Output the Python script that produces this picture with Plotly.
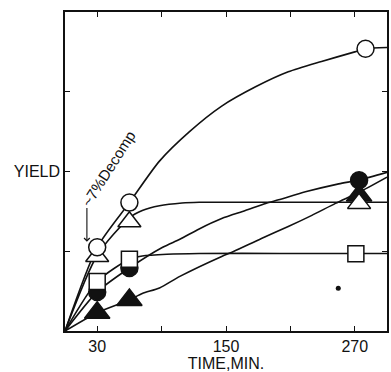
import plotly.graph_objects as go

# Measured points (time in minutes, yield in arbitrary units)
open_circle_t = [30, 60, 280]
open_circle_v = [1.05, 1.61, 3.54]
open_tri_t = [30, 60, 274]
open_tri_v = [0.935, 1.37, 1.60]
open_sq_t = [30, 60, 271]
open_sq_v = [0.62, 0.90, 0.97]
filled_circle_t = [30, 60, 274]
filled_circle_v = [0.49, 0.79, 1.89]
filled_tri_t = [30, 60, 274]
filled_tri_v = [0.23, 0.39, 1.70]

# Hand-drawn smooth curves through each series
curve_open_circle_t = [0, 30, 60, 88, 116, 146, 178, 208, 239, 270, 280, 300]
curve_open_circle_v = [0, 1.05, 1.61, 2.13, 2.50, 2.82, 3.065, 3.25, 3.38, 3.50, 3.54, 3.555]
curve_open_tri_t = [0, 30, 60, 72, 88, 109, 125, 200, 300]
curve_open_tri_v = [0, 0.95, 1.42, 1.51, 1.57, 1.605, 1.614, 1.614, 1.614]
curve_open_sq_t = [0, 30, 60, 72, 95, 125, 200, 300]
curve_open_sq_v = [0, 0.62, 0.90, 0.94, 0.962, 0.972, 0.972, 0.972]
curve_filled_circle_t = [0, 30, 60, 91, 107, 125, 146, 168, 187, 199, 224, 255, 274, 300]
curve_filled_circle_v = [0, 0.49, 0.79, 1.05, 1.15, 1.28, 1.41, 1.51, 1.60, 1.645, 1.745, 1.845, 1.894, 1.99]
curve_filled_tri_t = [0, 30, 60, 72, 88, 107, 146, 157, 183, 208, 230, 252, 274, 300]
curve_filled_tri_v = [0, 0.23, 0.39, 0.47, 0.54, 0.685, 0.935, 0.997, 1.16, 1.31, 1.45, 1.60, 1.74, 1.93]

# Small stray dot below the curves
speck_t = [254.6]
speck_v = [0.536]

x_tickvals = [30, 90, 150, 210, 270]
x_ticktext = ["30", "", "150", "", "270"]
y_tickvals = [1, 2, 3]
y_ticktext = ["", "YIELD", ""]

INK = "#111111"
FONT = "Liberation Sans"

fig = go.Figure()

curves = [
    (curve_filled_tri_t, curve_filled_tri_v),
    (curve_filled_circle_t, curve_filled_circle_v),
    (curve_open_sq_t, curve_open_sq_v),
    (curve_open_tri_t, curve_open_tri_v),
    (curve_open_circle_t, curve_open_circle_v),
]
for ct, cv in curves:
    fig.add_trace(go.Scatter(
        x=ct, y=cv, mode="lines",
        line=dict(color=INK, width=1.6, shape="spline", smoothing=0.7),
        hoverinfo="skip", showlegend=False,
    ))

markers = [
    (filled_tri_t, filled_tri_v, "triangle-up", 22, INK),
    (filled_circle_t, filled_circle_v, "circle", 17, INK),
    (open_tri_t, open_tri_v, "triangle-up", 20, "white"),
    (open_sq_t, open_sq_v, "square", 16, "white"),
    (open_circle_t, open_circle_v, "circle", 17, "white"),
]
for mt, mv, sym, size, fill in markers:
    fig.add_trace(go.Scatter(
        x=mt, y=mv, mode="markers",
        marker=dict(symbol=sym, size=size, color=fill,
                    line=dict(color=INK, width=1.5)),
        showlegend=False,
    ))

fig.add_trace(go.Scatter(
    x=speck_t, y=speck_v, mode="markers",
    marker=dict(symbol="circle", size=5, color=INK),
    showlegend=False, hoverinfo="skip",
))

# Rotated note with arrow pointing at the 30-minute point
fig.add_annotation(
    x=40.5, y=2.04, xref="x", yref="y", text="~7%Decomp",
    showarrow=False, textangle=-57.5,
    font=dict(family=FONT, size=15, color=INK),
)
fig.add_annotation(
    x=20.4, y=1.12, ax=20.4, ay=1.56, xref="x", yref="y",
    axref="x", ayref="y", text="", showarrow=True,
    arrowhead=4, arrowsize=1, arrowwidth=1.1, arrowcolor=INK,
)

axis_common = dict(
    showline=True, linecolor=INK, linewidth=1.5, mirror="allticks",
    ticks="inside", ticklen=5, tickwidth=1.2, tickcolor=INK,
    showgrid=False, zeroline=False,
    tickfont=dict(family=FONT, size=16, color=INK),
)

fig.update_layout(
    width=391, height=372,
    margin=dict(l=65, r=2, t=12, b=39),
    paper_bgcolor="white", plot_bgcolor="white",
    xaxis=dict(range=[0, 300], tickmode="array", tickvals=x_tickvals,
               ticktext=x_ticktext,
               title=dict(text="TIME,MIN.", standoff=4,
                          font=dict(family=FONT, size=16, color=INK)),
               **axis_common),
    yaxis=dict(range=[0, 4], tickmode="array", tickvals=y_tickvals,
               ticktext=y_ticktext, **axis_common),
)

fig.write_html("out.html")
